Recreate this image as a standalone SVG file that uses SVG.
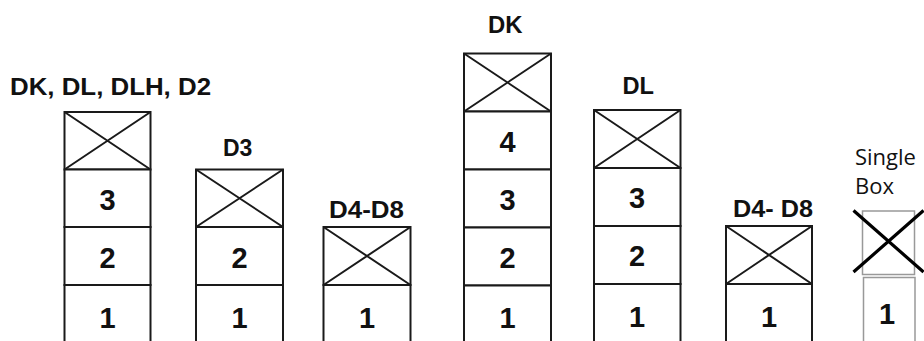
<svg xmlns="http://www.w3.org/2000/svg" width="924" height="341" viewBox="0 0 924 341">
<style>
.cell{fill:#fff;stroke:#1a1a1a;stroke-width:2}
.x{stroke:#1a1a1a;stroke-width:2;fill:none}
.lbl{font-family:"Liberation Sans",Arial,sans-serif;font-weight:bold;font-size:23px;fill:#111}
.num{font-family:"Liberation Sans",Arial,sans-serif;font-weight:bold;font-size:29px;fill:#111;text-anchor:middle}
.gray{fill:#fff;stroke:#999;stroke-width:1.5}
.sb{font-family:"Open Sans","Noto Sans",sans-serif;font-size:22px;fill:#111}
</style>
<rect width="924" height="341" fill="#fff"/>
<g id="stack1">
<text class="lbl" x="10" y="95" textLength="201" lengthAdjust="spacingAndGlyphs">DK, DL, DLH, D2</text>
<rect class="cell" x="64.5" y="112" width="86" height="57.5"/>
<path class="x" d="M64.5 112L150.5 169.5M64.5 169.5L150.5 112"/>
<rect class="cell" x="64.5" y="169.5" width="86" height="57.5"/>
<text class="num" x="107.5" y="210">3</text>
<rect class="cell" x="64.5" y="227" width="86" height="58"/>
<text class="num" x="107.5" y="268">2</text>
<rect class="cell" x="64.5" y="285" width="86" height="58"/>
<text class="num" x="107.5" y="328">1</text>
</g>
<g id="stack2">
<text class="lbl" x="223" y="156" font-size="24">D3</text>
<rect class="cell" x="196" y="169.5" width="87" height="57.5"/>
<path class="x" d="M196 169.5L283 227M196 227L283 169.5"/>
<rect class="cell" x="196" y="227" width="87" height="58"/>
<text class="num" x="239.5" y="268">2</text>
<rect class="cell" x="196" y="285" width="87" height="58"/>
<text class="num" x="239.5" y="328">1</text>
</g>
<g id="stack3">
<text class="lbl" x="329" y="218.3" textLength="75" lengthAdjust="spacingAndGlyphs">D4-D8</text>
<rect class="cell" x="323.5" y="227" width="87" height="58"/>
<path class="x" d="M323.5 227L410.5 285M323.5 285L410.5 227"/>
<rect class="cell" x="323.5" y="285" width="87" height="58"/>
<text class="num" x="367" y="328">1</text>
</g>
<g id="stack4">
<text class="lbl" x="488" y="32.7" textLength="34.5" lengthAdjust="spacingAndGlyphs">DK</text>
<rect class="cell" x="464" y="53.5" width="87" height="58"/>
<path class="x" d="M464 53.5L551 111.5M464 111.5L551 53.5"/>
<rect class="cell" x="464" y="111.5" width="87" height="58"/>
<text class="num" x="507.5" y="152">4</text>
<rect class="cell" x="464" y="169.5" width="87" height="58"/>
<text class="num" x="507.5" y="210">3</text>
<rect class="cell" x="464" y="227.5" width="87" height="58"/>
<text class="num" x="507.5" y="268">2</text>
<rect class="cell" x="464" y="285.5" width="87" height="58"/>
<text class="num" x="507.5" y="328">1</text>
</g>
<g id="stack5">
<text class="lbl" x="622.5" y="94" textLength="31.5" lengthAdjust="spacingAndGlyphs">DL</text>
<rect class="cell" x="594" y="110" width="86.5" height="58"/>
<path class="x" d="M594 110L680.5 168M594 168L680.5 110"/>
<rect class="cell" x="594" y="168" width="86.5" height="58"/>
<text class="num" x="637" y="208">3</text>
<rect class="cell" x="594" y="226" width="86.5" height="58"/>
<text class="num" x="637" y="266">2</text>
<rect class="cell" x="594" y="284" width="86.5" height="59"/>
<text class="num" x="637" y="327">1</text>
</g>
<g id="stack6">
<text class="lbl" x="733" y="216.7" textLength="80" lengthAdjust="spacingAndGlyphs">D4- D8</text>
<rect class="cell" x="726" y="226" width="86" height="58"/>
<path class="x" d="M726 226L812 284M726 284L812 226"/>
<rect class="cell" x="726" y="284" width="86" height="59"/>
<text class="num" x="769" y="327">1</text>
</g>
<g id="single">
<text class="sb" x="855" y="165">Single</text>
<text class="sb" x="855" y="194">Box</text>
<rect class="gray" x="862.5" y="211" width="52" height="63.5"/>
<path d="M853.5 210.5L923.5 272M853.5 272L923.5 210.5" stroke="#000" stroke-width="3.2" fill="none"/>
<rect class="gray" x="863.5" y="277.5" width="51.5" height="65"/>
<text class="num" x="887" y="324" font-size="25">1</text>
</g>
<g id="connectors"/>
</svg>
